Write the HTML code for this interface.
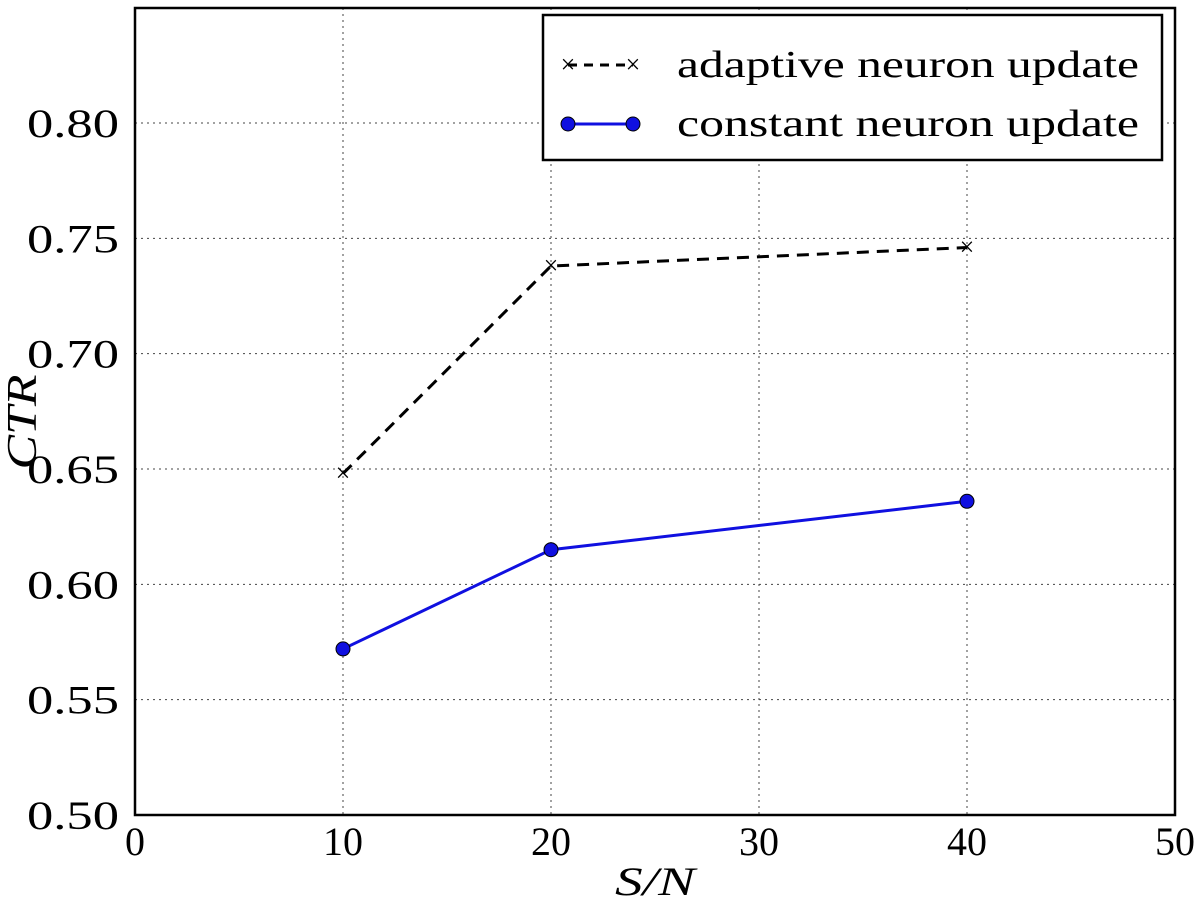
<!DOCTYPE html>
<html><head><meta charset="utf-8"><style>
body{margin:0;background:#fff;}
svg text{font-family:"Liberation Serif",serif;fill:#000;}
</style></head><body>
<svg width="1200" height="906" xmlns="http://www.w3.org/2000/svg">
<g id="grid"></g>
<g id="axes"></g>
<g id="series"></g>
<rect x="135" y="8" width="1040" height="807" fill="none" stroke="#000" stroke-width="2.5"/>
<text x="36" y="422" font-size="42" font-style="italic" text-anchor="middle" transform="rotate(-90 36 422)" textLength="95" lengthAdjust="spacingAndGlyphs">CTR</text>
<text x="655" y="895" font-size="40" font-style="italic" text-anchor="middle" textLength="80" lengthAdjust="spacingAndGlyphs">S/N</text>
<g>
<rect x="543" y="15" width="619" height="145" fill="#fff" stroke="#000" stroke-width="2.5"/>
<line x1="568" y1="65" x2="633" y2="65" stroke="#000" stroke-width="3" stroke-dasharray="9,7"/>
<text x="568" y="73" font-size="26" text-anchor="middle">×</text>
<text x="633" y="73" font-size="26" text-anchor="middle">×</text>
<text x="677" y="77" font-size="38" textLength="462" lengthAdjust="spacingAndGlyphs">adaptive neuron update</text>
<line x1="568" y1="124" x2="633" y2="124" stroke="#1010e0" stroke-width="3"/>
<circle cx="568" cy="124" r="7" fill="#1010e0" stroke="#000" stroke-width="1"/>
<circle cx="633" cy="124" r="7" fill="#1010e0" stroke="#000" stroke-width="1"/>
<text x="677" y="136" font-size="38" textLength="462" lengthAdjust="spacingAndGlyphs">constant neuron update</text>
</g>
</svg>
<script>
const xValues=[10,20,40];
const adaptive=[0.648,0.738,0.746];
const constant=[0.572,0.615,0.636];
const xTicks=[0,10,20,30,40,50];
const yTicks=[0.50,0.55,0.60,0.65,0.70,0.75,0.80];
const X=v=>135+v*(1040/50);
const Y=v=>815-(v-0.5)*(692/0.30);
const NS="http://www.w3.org/2000/svg";
function mk(tag,attrs,parent){const e=document.createElementNS(NS,tag);for(const k in attrs)e.setAttribute(k,attrs[k]);parent.appendChild(e);return e;}
const grid=document.getElementById('grid'),axes=document.getElementById('axes'),ser=document.getElementById('series');
xTicks.forEach(t=>{
  if(t>0&&t<50){const l=mk('line',{x1:X(t),x2:X(t),y1:8,y2:815,stroke:'#444','stroke-width':1,'stroke-dasharray':'2,4'},grid);
  
  }
  const tx=mk('text',{x:X(t),y:855,'font-size':40,'text-anchor':'middle'},axes);tx.textContent=t;
  
  
});
yTicks.forEach(t=>{
  if(t>0.5){const l=mk('line',{x1:135,x2:1175,y1:Y(t),y2:Y(t),stroke:'#444','stroke-width':1,'stroke-dasharray':'2,4'},grid);
  
  }
  const tx=mk('text',{x:119,y:Y(t)+14,'font-size':40,'text-anchor':'end',textLength:92,lengthAdjust:'spacingAndGlyphs'},axes);tx.textContent=t.toFixed(2);
  
  
});
const pa=mk('polyline',{points:xValues.map((x,i)=>X(x)+','+Y(adaptive[i])).join(' '),fill:'none',stroke:'#000','stroke-width':3,'stroke-dasharray':'12,8'},ser);


xValues.forEach((x,i)=>{const t=mk('text',{x:X(x),y:Y(adaptive[i])+8,'font-size':26,'text-anchor':'middle'},ser);t.textContent='×';
  
  });
const pc=mk('polyline',{points:xValues.map((x,i)=>X(x)+','+Y(constant[i])).join(' '),fill:'none',stroke:'#1010e0','stroke-width':3},ser);


xValues.forEach((x,i)=>{const c=mk('circle',{cx:X(x),cy:Y(constant[i]),r:7,fill:'#1010e0',stroke:'#000','stroke-width':1},ser);
  
  });
</script>
</body></html>
